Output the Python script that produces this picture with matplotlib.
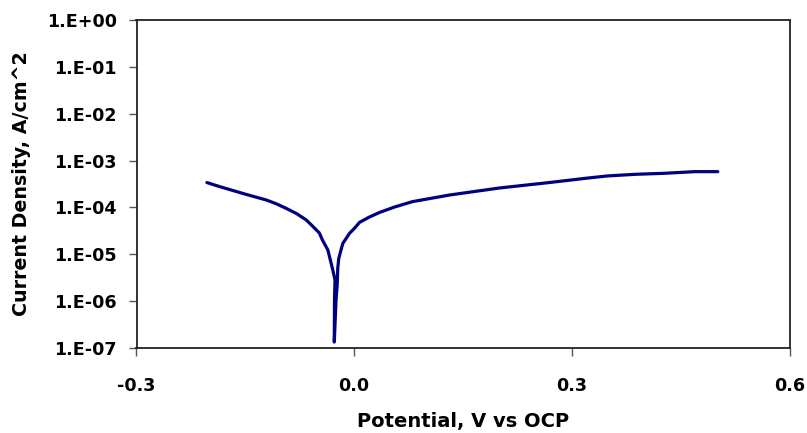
import matplotlib
matplotlib.use("Agg")
import matplotlib.pyplot as plt
from matplotlib.ticker import FixedLocator, FixedFormatter

# Polarization curve: potential (V vs OCP) and current density (A/cm^2)
potential = [-0.203, -0.186, -0.149, -0.121, -0.1075, -0.094, -0.0795, -0.066,
             -0.0574, -0.048, -0.0436, -0.0363, -0.034, -0.0294, -0.0264,
             -0.0271, -0.0274,
             -0.025, -0.0234, -0.0226, -0.0212, -0.0157, -0.0064, 0.0005,
             0.0074, 0.0211, 0.0349, 0.0556, 0.0804, 0.1314, 0.2003, 0.2692,
             0.3198, 0.349, 0.3887, 0.4277, 0.4691, 0.5012]
current = [3.4e-4, 2.8e-4, 1.9e-4, 1.44e-4, 1.2e-4, 9.6e-5, 7.4e-5, 5.4e-5,
           4.0e-5, 2.85e-5, 2.0e-5, 1.24e-5, 8.9e-6, 4.6e-6, 2.83e-6,
           1.06e-6, 1.34e-7,
           1.06e-6, 2.2e-6, 5.1e-6, 8.2e-6, 1.7e-5, 2.8e-5, 3.6e-5,
           4.8e-5, 6.25e-5, 7.8e-5, 1.02e-4, 1.33e-4, 1.84e-4, 2.6e-4, 3.4e-4,
           4.2e-4, 4.7e-4, 5.1e-4, 5.35e-4, 5.8e-4, 5.8e-4]

x_ticks = [-0.3, 0.0, 0.3, 0.6]
x_tick_labels = ["-0.3", "0.0", "0.3", "0.6"]
y_ticks = [1e-7, 1e-6, 1e-5, 1e-4, 1e-3, 1e-2, 1e-1, 1e0]
y_tick_labels = ["1.E-07", "1.E-06", "1.E-05", "1.E-04", "1.E-03", "1.E-02", "1.E-01", "1.E+00"]

plt.rcParams['font.family'] = ['DejaVu Sans']

fig = plt.figure(figsize=(8.07, 4.33), dpi=100)
ax = fig.add_axes([136.5 / 807, 1 - 348 / 433, (789.5 - 136.5) / 807, (348 - 20) / 433])

ax.plot(potential, current, color='#000080', linewidth=2.3,
        solid_joinstyle='round', solid_capstyle='round')

ax.set_yscale('log')
ax.set_xlim(-0.3, 0.6)
ax.set_ylim(1e-7, 1e0)

ax.xaxis.set_major_locator(FixedLocator(x_ticks))
ax.xaxis.set_major_formatter(FixedFormatter(x_tick_labels))
ax.yaxis.set_major_locator(FixedLocator(y_ticks))
ax.yaxis.set_major_formatter(FixedFormatter(y_tick_labels))
ax.yaxis.set_minor_locator(FixedLocator([]))

ax.tick_params(axis='both', which='major', direction='out', length=6, width=1.0,
               color='#555555', labelsize=12.6)
ax.tick_params(axis='y', pad=8)
ax.tick_params(axis='x', pad=15)
for lbl in ax.get_xticklabels() + ax.get_yticklabels():
    lbl.set_fontweight('bold')

for s in ax.spines.values():
    s.set_linewidth(1.3)
    s.set_color('#222222')

fig.text(463, 433 - 421, "Potential, V vs OCP", transform=None,
         ha='center', va='center', fontsize=14, fontweight='bold')
fig.text(22, 433 - 184, "Current Density, A/cm^2", transform=None,
         ha='center', va='center', rotation=90, fontsize=13.7, fontweight='bold')

fig.savefig("out.png", dpi=100)
